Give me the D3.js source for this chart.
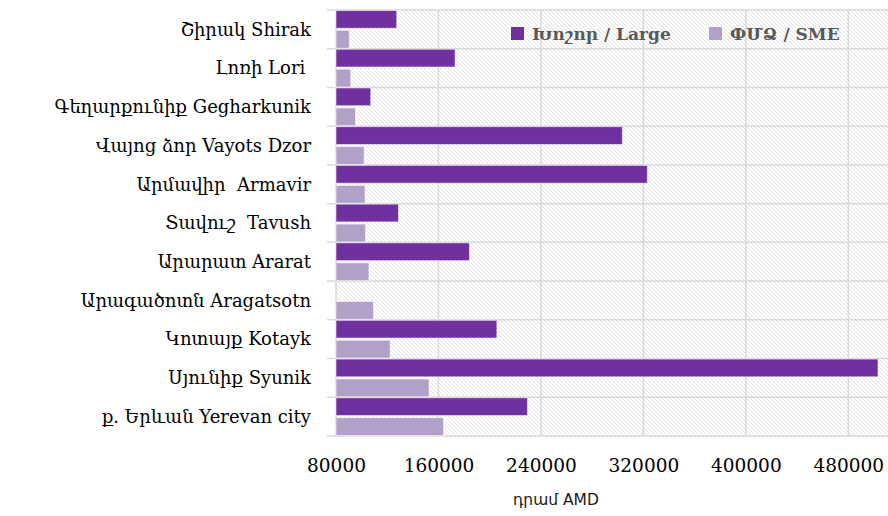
<!DOCTYPE html>
<html>
<head>
<meta charset="utf-8">
<script src="https://cdn.jsdelivr.net/npm/d3@7"></script>
<style>
  body { margin: 0; background: #fff; }
  svg { display: block; }
  text { white-space: pre; }
</style>
</head>
<body>
<div id="chart"></div>
<script>
    var categories = [
      "Շիրակ Shirak",
      "Լոռի Lori ",
      "Գեղարքունիք Gegharkunik",
      "Վայոց ձոր Vayots Dzor",
      "Արմավիր  Armavir",
      "Տավուշ  Tavush",
      "Արարատ Ararat",
      "Արագածոտն Aragatsotn",
      "Կոտայք Kotayk",
      "Սյունիք Syunik",
      "ք. Երևան Yerevan city"
    ];
    var largeValues = [127400, 173000, 107100, 303600, 323100, 128800, 184200, null, 205600, 503200, 229500];
    var smeValues = [90400, 91500, 95200, 102000, 102700, 103000, 105700, 109300, 122300, 152700, 163900];
    var seriesNames = ["Խոշոր / Large", "ՓՄՁ / SME"];
    var tickLabels = [80000, 160000, 240000, 320000, 400000, 480000];

    var colors = ["#7030a0", "#b1a0c7"];
    var serif = "'DejaVu Serif', 'DejaVu Sans', serif";

    var svg = d3.select("#chart")
                .append("svg")
                .attr("width", 888)
                .attr("height", 516);

    var margin = { top: 10, left: 336, bottom: 436 };

    var xScale = d3.scaleLinear()
                   .domain([80000, 511000])
                   .range([margin.left, 888]);

    var yScale = d3.scaleBand()
                   .domain(categories)
                   .range([margin.top, margin.bottom]);

    var bw = yScale.bandwidth();

    // hatch background
    var defs = svg.append("defs");
    var pat = defs.append("pattern")
                  .attr("id", "hatch")
                  .attr("patternUnits", "userSpaceOnUse")
                  .attr("width", 4)
                  .attr("height", 4);
    pat.append("rect").attr("width", 4).attr("height", 4).attr("fill", "#fff");
    pat.append("path")
       .attr("d", "M-1,-1 L5,5 M-1,3 L1,5 M3,-1 L5,1")
       .attr("stroke", "#e2e2e2")
       .attr("stroke-width", 1);

    svg.append("rect")
       .attr("x", margin.left)
       .attr("y", margin.top)
       .attr("width", 888 - margin.left)
       .attr("height", margin.bottom - margin.top)
       .attr("fill", "url(#hatch)");

    // vertical grid
    svg.append("g")
       .selectAll("line")
       .data(tickLabels)
       .enter()
       .append("line")
       .attr("x1", d => xScale(d))
       .attr("x2", d => xScale(d))
       .attr("y1", margin.top)
       .attr("y2", margin.bottom)
       .attr("stroke", "#d9d9d9")
       .attr("stroke-width", 1.5);

    // horizontal grid / category ticks
    var bounds = categories.map(c => yScale(c)).concat([margin.bottom]);
    svg.append("g")
       .selectAll("line")
       .data(bounds)
       .enter()
       .append("line")
       .attr("x1", margin.left - 9)
       .attr("x2", 888)
       .attr("y1", d => d)
       .attr("y2", d => d)
       .attr("stroke", "#d9d9d9")
       .attr("stroke-width", 1.5);

    // bars
    var allSeries = [largeValues, smeValues];
    allSeries.forEach(function (vals, i) {
      svg.append("g")
         .selectAll("rect")
         .data(categories.map((c, j) => ({ cat: c, value: vals[j] })).filter(d => d.value != null))
         .enter()
         .append("rect")
         .attr("x", xScale(80000))
         .attr("y", d => yScale(d.cat) + 0.5 + i * (bw / 2 + 0.6))
         .attr("height", bw / 2 - 1.6)
         .attr("width", d => xScale(d.value) - xScale(80000))
         .attr("fill", colors[i])
         .attr("stroke", "#fff")
         .attr("stroke-opacity", 0.55)
         .attr("stroke-width", 1);
    });

    // category labels
    svg.append("g")
       .selectAll("text")
       .data(categories)
       .enter()
       .append("text")
       .attr("x", 311)
       .attr("y", d => yScale(d) + bw / 2)
       .attr("dy", "0.35em")
       .attr("text-anchor", "end")
       .style("font-family", serif)
       .style("font-size", "18px")
       .attr("fill", "#000")
       .text(d => d);

    // x axis labels
    var xAxis = svg.append("g")
       .attr("transform", `translate(0, ${margin.bottom})`)
       .call(d3.axisBottom(xScale).tickValues(tickLabels).tickSize(0).tickPadding(23).tickFormat(d3.format("d")));
    xAxis.select(".domain").remove();
    xAxis.selectAll("text")
         .style("font-family", "'DejaVu Serif', serif")
         .style("font-size", "18.5px")
         .attr("fill", "#000");

    svg.append("text")
       .attr("x", 556)
       .attr("y", 505)
       .attr("text-anchor", "middle")
       .style("font-family", "'DejaVu Sans', sans-serif")
       .style("font-size", "15.5px")
       .attr("fill", "#1a1a1a")
       .text("դրամ AMD");

    // legend
    var legendX = [511, 709];
    var legend = svg.append("g")
                    .selectAll("g")
                    .data(seriesNames)
                    .enter()
                    .append("g")
                    .attr("transform", (d, i) => `translate(${legendX[i]}, 27)`);
    legend.append("rect")
          .attr("width", 13)
          .attr("height", 13)
          .attr("fill", (d, i) => colors[i]);
    legend.append("text")
          .attr("x", 21)
          .attr("y", 7)
          .attr("dy", "0.35em")
          .style("font-family", serif)
          .style("font-size", "17px")
          .style("font-weight", "bold")
          .attr("fill", "#595959")
          .text(d => d);
</script>
</body>
</html>
